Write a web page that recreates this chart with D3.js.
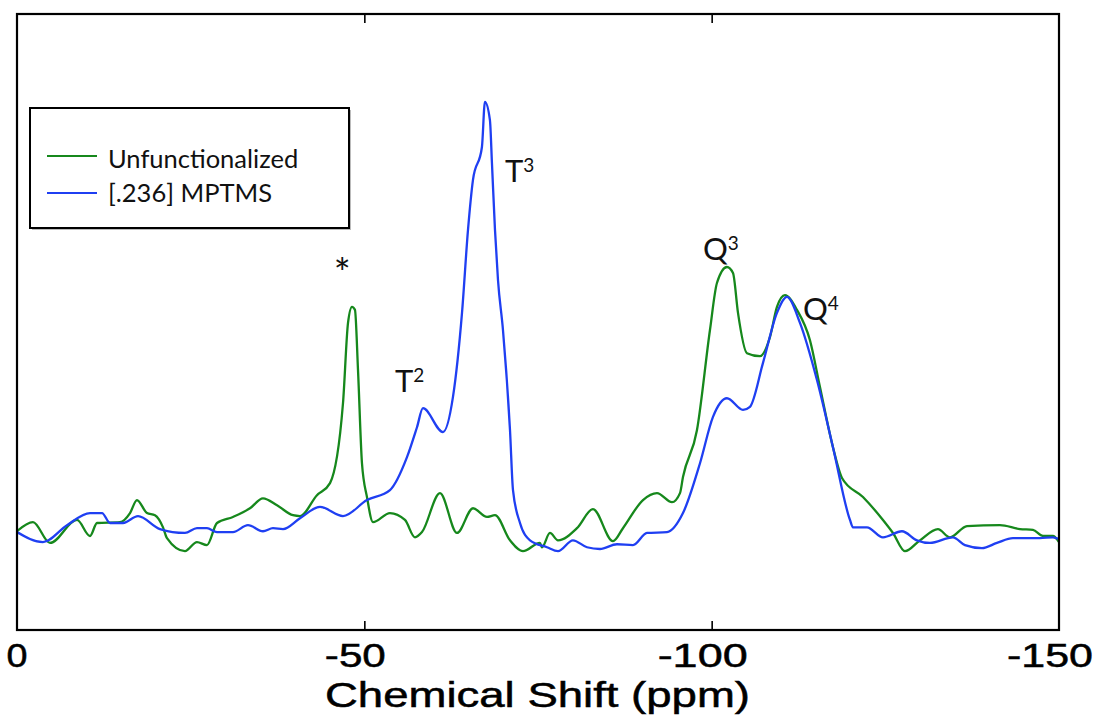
<!DOCTYPE html>
<html><head><meta charset="utf-8">
<script src="https://cdn.jsdelivr.net/npm/d3@7"></script>
<style>body{margin:0;background:#fff}svg{display:block}</style>
</head><body>
<svg id="c" width="1104" height="715"></svg>
<script>
// ---- data (chemical shift in ppm, normalized intensity) ----
const unfuncPpm = [0,-2.3,-4.75,-8.64,-10.51,-11.52,-14.83,-16.27,-17.27,-18.71,-19.86,-21.02,-21.59,-24.18,-25.91,-27.35,-28.79,-31.09,-33.54,-35.41,-37.43,-39.73,-40.74,-43.18,-45.06,-46.93,-47.65,-48.22,-48.65,-49.09,-49.66,-50.38,-51.24,-53.69,-55.85,-57.29,-58.30,-60.89,-63.34,-65.64,-67.66,-68.81,-70.97,-72.84,-75.28,-75.57,-76.72,-77.88,-80.61,-82.91,-85.79,-87.23,-90.11,-92.13,-94.29,-95.44,-95.87,-97.88,-99.75,-100.76,-102.20,-103.07,-103.79,-105.08,-106.95,-108.39,-109.40,-110.55,-112.28,-114.15,-115.59,-117.46,-118.76,-121.78,-124.66,-126.10,-127.83,-129.98,-132.57,-134.30,-136.75,-141.50,-144.38,-146.25,-147.69,-149.13,-150];
const unfuncInt = [0.009,0.030,-0.018,0.035,-0.002,0.028,0.030,0.051,0.081,0.051,0.046,0.018,-0.007,-0.037,-0.016,-0.023,0.028,0.042,0.062,0.085,0.069,0.046,0.044,0.092,0.120,0.305,0.490,0.527,0.520,0.381,0.166,0.088,0.030,0.051,0.035,-0.005,0.007,0.097,0.005,0.062,0.042,0.046,-0.012,-0.037,-0.018,-0.028,0.005,-0.012,0.016,0.060,-0.014,0.016,0.081,0.097,0.076,0.097,0.134,0.242,0.473,0.582,0.619,0.605,0.513,0.420,0.413,0.457,0.527,0.554,0.520,0.450,0.342,0.203,0.132,0.088,0.035,0.005,-0.037,-0.012,0.014,-0.005,0.021,0.023,0.014,0.012,-0.002,-0.002,-0.016];

const mptmsPpm = [0,-3.74,-7.20,-10.51,-12.24,-13.39,-15.26,-17.42,-20.58,-24.18,-25.91,-27.35,-28.79,-31.09,-33.25,-35.41,-36.85,-38.29,-40.74,-43.62,-46.93,-50.38,-53.69,-56.14,-57.58,-58.44,-61.32,-62.76,-64.06,-64.92,-65.64,-66.93,-67.36,-68.08,-68.37,-68.81,-69.24,-69.96,-70.97,-71.40,-72.41,-73.85,-76.29,-77.88,-80.03,-82.05,-83.92,-86.37,-88.67,-90.69,-93.57,-95.87,-98.32,-100.19,-102.20,-104.51,-105.51,-107.38,-109.40,-110.84,-112.71,-115.16,-117.46,-119.91,-120.34,-122.35,-124.66,-127.39,-129.55,-131.42,-134.73,-136.46,-138.91,-141.07,-143.37,-147.26,-149.13,-150];
const mptmsInt = [0.007,-0.016,0.023,0.051,0.051,0.028,0.028,0.044,0.014,0.005,0.016,0.016,0.007,0.007,0.023,0.009,0.016,0.014,0.039,0.065,0.044,0.081,0.104,0.180,0.249,0.293,0.238,0.319,0.513,0.704,0.820,0.896,1.000,0.958,0.859,0.704,0.589,0.473,0.242,0.104,0.028,-0.012,-0.028,-0.037,-0.012,-0.028,-0.032,-0.021,-0.023,0.005,0.007,0.051,0.166,0.273,0.316,0.289,0.296,0.397,0.513,0.550,0.490,0.358,0.203,0.035,0.018,0.018,-0.005,0.009,-0.012,-0.018,-0.005,-0.023,-0.030,-0.018,-0.007,-0.007,-0.005,-0.009];

const seriesNames = ["Unfunctionalized", "[.236] MPTMS"];
const seriesColors = ["#16881c", "#1f3ff2"];
const xTicks = [0, -50, -100, -150];
const xTitle = "Chemical Shift (ppm)";

// peak labels: main text, superscript, ppm, intensity (baseline position)
const labelText = ["*", "T", "T", "Q", "Q"];
const labelSup  = ["",  "2", "3", "3", "4"];
const labelPpm  = [-45.6, -54.41, -70.25, -98.75, -113.14];
const labelInt  = [0.570, 0.330, 0.815, 0.635, 0.497];

// ---- layout ----
const svg = d3.select("#c");
const L = 17, R = 1059, T = 14, B = 630;
const x = d3.scaleLinear().domain([0, -150]).range([L, R]);
const y = d3.scaleLinear().domain([-0.219, 1.203]).range([B, T]);

const series = [
  unfuncPpm.map((p, i) => ({p, v: unfuncInt[i]})),
  mptmsPpm.map((p, i) => ({p, v: mptmsInt[i]}))
];

const line = d3.line().x(d => x(d.p)).y(d => y(d.v)).curve(d3.curveMonotoneX);

const g = svg.append("g");
g.append("defs").append("clipPath").attr("id", "clip")
  .append("rect").attr("x", L).attr("y", T).attr("width", R - L).attr("height", B - T);

series.forEach((s, i) => {
  g.append("path").datum(s)
    .attr("clip-path", "url(#clip)")
    .attr("fill", "none")
    .attr("stroke", seriesColors[i])
    .attr("stroke-width", 2.3)
    .attr("stroke-linejoin", "round")
    .attr("d", line);
});

// frame
g.append("rect").attr("x", L).attr("y", T).attr("width", R - L).attr("height", B - T)
  .attr("fill", "none").attr("stroke", "#000").attr("stroke-width", 2.2);

// axes ticks inward (bottom and top)
const xb = d3.axisBottom(x).tickValues(xTicks.slice(1, -1)).tickSize(-9).tickFormat("");
const xt = d3.axisTop(x).tickValues(xTicks.slice(1, -1)).tickSize(-9).tickFormat("");
const gb = g.append("g").attr("transform", `translate(0,${B})`).call(xb);
const gt = g.append("g").attr("transform", `translate(0,${T})`).call(xt);
[gb, gt].forEach(a => {
  a.select(".domain").remove();
  a.selectAll("line").attr("stroke", "#000").attr("stroke-width", 1.6);
});

// tick labels
const tickWidths = {"0": 21, "-50": 61, "-100": 90, "-150": 86};
g.selectAll("text.tl").data(xTicks).join("text").attr("class", "tl")
  .attr("x", d => x(d) + (d === 0 ? 0 : -9))
  .attr("y", 667)
  .attr("text-anchor", "middle")
  .attr("font-family", "Liberation Sans, Arial, sans-serif")
  .attr("font-size", 33)
  .attr("stroke", "#000").attr("stroke-width", 0.5)
  .attr("textLength", d => tickWidths[String(d)])
  .attr("lengthAdjust", "spacingAndGlyphs")
  .text(d => String(d));

g.append("text")
  .attr("x", 537.5).attr("y", 707)
  .attr("text-anchor", "middle")
  .attr("font-family", "Liberation Sans, Arial, sans-serif")
  .attr("font-size", 35)
  .attr("stroke", "#000").attr("stroke-width", 0.5)
  .attr("textLength", 425)
  .attr("lengthAdjust", "spacingAndGlyphs")
  .text(xTitle);

// peak labels
labelText.forEach((t, i) => {
  const tx = g.append("text")
    .attr("x", x(labelPpm[i])).attr("y", y(labelInt[i]))
    .attr("font-family", "Lato, sans-serif")
    .attr("font-size", t === "*" ? 40 : 31)
    .attr("fill", "#111");
  tx.append("tspan").text(t);
  if (labelSup[i]) tx.append("tspan").attr("dy", -10).attr("font-size", 19).text(labelSup[i]);
});

// legend
const lg = svg.append("g");
lg.append("rect").attr("x", 32).attr("y", 110).attr("width", 319).attr("height", 120).attr("fill", "#bbb");
lg.append("rect").attr("x", 30).attr("y", 108).attr("width", 319).attr("height", 120)
  .attr("fill", "#fff").attr("stroke", "#000").attr("stroke-width", 2);
const legY = [156, 193];
const legTextY = [168, 202];
seriesNames.forEach((n, i) => {
  lg.append("line").attr("x1", 47).attr("x2", 97).attr("y1", legY[i]).attr("y2", legY[i])
    .attr("stroke", seriesColors[i]).attr("stroke-width", 2);
  lg.append("text").attr("x", 108).attr("y", legTextY[i])
    .attr("font-family", "Lato, sans-serif").attr("font-size", 25.5).attr("fill", "#111")
    .text(n);
});
</script>
</body></html>
